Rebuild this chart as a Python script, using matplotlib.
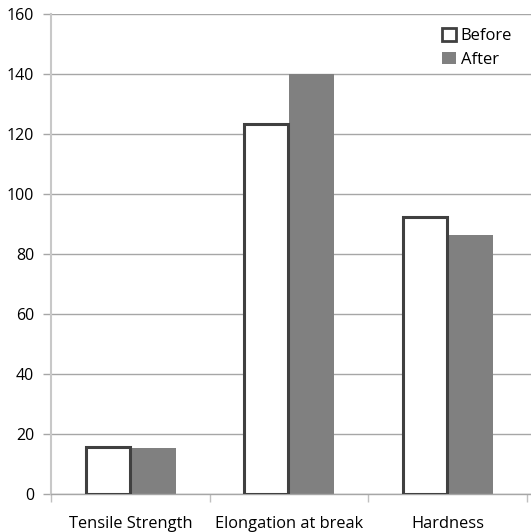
import matplotlib
matplotlib.use("Agg")
import matplotlib.pyplot as plt
import numpy as np
from matplotlib.patches import Patch

categories = ["Tensile Strength", "Elongation at break", "Hardness"]
before = [15.7, 123.3, 92.2]
after = [15.4, 140.0, 86.2]

plt.rcParams['font.family'] = ['Open Sans', 'DejaVu Sans']

fig = plt.figure(figsize=(5.31, 5.32), dpi=100)
ax = fig.add_axes([51 / 531, 38 / 532, 480 / 531, 480 / 532])

x = np.arange(len(categories))
w = 0.285
ax.bar(x + w / 2, after, w, color='#808080', edgecolor='none', zorder=2, label='After')
ax.bar(x - w / 2, before, w * 0.97, color='white', edgecolor='#404040', linewidth=2.2,
       zorder=3, label='Before')

ax.set_ylim(0, 160)
ax.set_xlim(-0.5, 2.525)
ax.set_yticks(range(0, 161, 20))
ax.yaxis.grid(True, color='#a6a6a6', linewidth=1.0)
ax.set_axisbelow(True)

ax.set_xticks([-0.5, 0.5, 1.5, 2.5])
ax.set_xticklabels([])
ax.set_xticks(x, minor=True)
ax.set_xticklabels(categories, minor=True)
ax.tick_params(axis='x', which='minor', length=0, pad=16, labelsize=11.8)
ax.tick_params(axis='x', which='major', length=6, color='#c0c0c0', width=1)
ax.tick_params(axis='y', length=6, color='#a6a6a6', width=1, labelsize=11.5, pad=6)

for s in ['top', 'right']:
    ax.spines[s].set_visible(False)
ax.spines['left'].set_color('#c8c8c8')
ax.spines['left'].set_linewidth(1.5)
ax.spines['bottom'].set_color('#a6a6a6')
ax.spines['bottom'].set_linewidth(1.0)

handles = [Patch(facecolor='white', edgecolor='#404040', linewidth=2.0, label='Before'),
           Patch(facecolor='#808080', edgecolor='none', label='After')]
ax.legend(handles=handles, loc='upper right', bbox_to_anchor=(0.985, 0.995), frameon=False,
          fontsize=12, handlelength=0.8, handleheight=0.8, handletextpad=0.3,
          labelspacing=0.45, borderaxespad=0.3)

fig.savefig('out.png', dpi=100)
